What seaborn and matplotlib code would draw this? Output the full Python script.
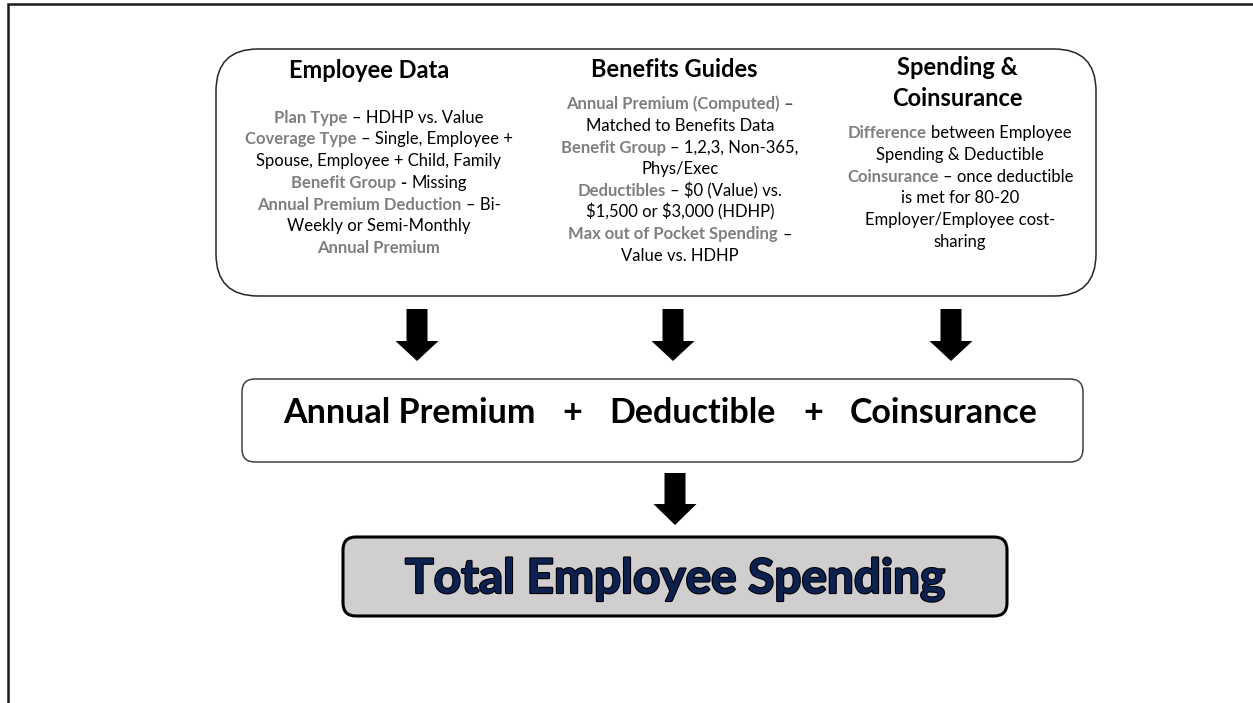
import matplotlib
matplotlib.use("Agg")
import matplotlib.pyplot as plt
import matplotlib.patheffects as pe
from matplotlib.patches import FancyBboxPatch
import numpy as np
import pandas as pd
import seaborn as sns

# ---------------- content ----------------
col_titles = [["Employee Data"], ["Benefits Guides"], ["Spending &", "Coinsurance"]]

col1_lines = [
    [("Plan Type", "label"), (" – HDHP vs. Value", "value")],
    [("Coverage Type", "label"), (" – Single, Employee +", "value")],
    [("Spouse, Employee + Child, Family", "value")],
    [("Benefit Group", "label"), (" -", "strong"), (" Missing", "value")],
    [("Annual Premium Deduction", "label"), (" – Bi-", "value")],
    [("Weekly or Semi-Monthly", "value")],
    [("Annual Premium", "label")],
]
col2_lines = [
    [("Annual Premium (Computed)", "label"), (" –", "accent")],
    [("Matched to Benefits Data", "value")],
    [("Benefit Group", "label"), (" – 1,2,3, Non-365,", "value")],
    [("Phys/Exec", "value")],
    [("Deductibles", "label"), (" – $0 (Value) vs.", "value")],
    [("$1,500 or $3,000 (HDHP)", "value")],
    [("Max out of Pocket Spending", "label"), (" –", "value")],
    [("Value vs. HDHP", "value")],
]
col3_lines = [
    [("Difference", "label"), (" between Employee", "value")],
    [("Spending & Deductible", "value")],
    [("Coinsurance", "label"), (" – once deductible", "value")],
    [("is met for 80-20", "value")],
    [("Employer/Employee cost-", "value")],
    [("sharing", "value")],
]
formula_terms = ["Annual Premium", "+", "Deductible", "+", "Coinsurance"]
result_label = "Total Employee Spending"

# ---------------- style ----------------
sns.set_theme(style="white")
plt.rcParams["font.family"] = ["Lato", "DejaVu Sans"]

STYLE = {
    "label": dict(color="#7f7f7f", fontweight="bold"),
    "value": dict(color="#000000", fontweight="normal"),
    "strong": dict(color="#000000", fontweight="bold"),
    "accent": dict(color="#44546a", fontweight="bold"),
}

W, H = 1253, 703
fig = plt.figure(figsize=(W / 100, H / 100), dpi=100)
ax = fig.add_axes([0, 0, 1, 1])
ax.set_xlim(0, W)
ax.set_ylim(H, 0)
ax.axis("off")
sns.despine(ax=ax, left=True, bottom=True)
renderer = fig.canvas.get_renderer()


def text_width(s, size, weight):
    t = ax.text(0, 0, s, fontsize=size, fontweight=weight, parse_math=False)
    w = t.get_window_extent(renderer).width
    t.remove()
    return w


def fit_size(s, weight, target):
    return 20 * target / text_width(s, 20, weight)


def space_width(size, weight):
    return text_width("n n", size, weight) - text_width("nn", size, weight)


def draw_line(segments, cx, baseline, size):
    pieces = []
    total = 0
    for txt, kind in segments:
        st = STYLE[kind]
        lead = len(txt) - len(txt.lstrip(" "))
        core = txt.strip(" ")
        gap = lead * space_width(size, st["fontweight"])
        w = text_width(core, size, st["fontweight"])
        pieces.append((gap, core, st, w))
        total += gap + w
    x = cx - total / 2
    for gap, core, st, w in pieces:
        x += gap
        ax.text(x, baseline, core, ha="left", va="baseline", fontsize=size,
                parse_math=False, **st)
        x += w


body_size = fit_size("Spouse, Employee + Child, Family", "normal", 245)
head_size = fit_size("Employee Data", "bold", 160)
mid_size = fit_size("Annual Premium", "bold", 251)
big_size = fit_size(result_label, "bold", 540)

# outer slide frame (top and left edges)
ax.plot([8, 8, W], [H, 4, 4], color="#1a1a1a", lw=1.8, solid_capstyle="butt",
        solid_joinstyle="miter")

# top rounded panel
ax.add_patch(FancyBboxPatch((216, 49), 880, 247,
                            boxstyle="round,pad=0,rounding_size=42",
                            fc="white", ec="#262626", lw=1.1))

# column texts
title_cx = [369, 674, 957]
body_cx = [379, 680, 960]
title_base = [[78], [77], [75, 106]]
body_first = [122.7, 109.3, 138.3]
line_step = 21.7
for i, lines in enumerate([col1_lines, col2_lines, col3_lines]):
    for t, yb in zip(col_titles[i], title_base[i]):
        ax.text(title_cx[i], yb, t, ha="center", va="baseline", fontsize=head_size,
                fontweight="bold", color="black", parse_math=False)
    for j, segs in enumerate(lines):
        draw_line(segs, body_cx[i], body_first[i] + j * line_step, body_size)


def down_arrow(cx, y0, yh, y1, shaft=10.5, head=21.5):
    xs = [cx - shaft, cx + shaft, cx + shaft, cx + head, cx, cx - head, cx - shaft]
    ys = [y0, y0, yh, yh, y1, yh, yh]
    ax.fill(xs, ys, color="black", lw=0)


for cx in [417, 673, 951]:
    down_arrow(cx, 309, 341, 361)
down_arrow(675, 473, 504, 525)

# middle formula box
ax.add_patch(FancyBboxPatch((242, 379), 841, 83,
                            boxstyle="round,pad=0,rounding_size=13",
                            fc="white", ec="#404040", lw=1.1))
gap = 27
widths = [text_width(s, mid_size, "bold") for s in formula_terms]
total = sum(widths) + gap * (len(formula_terms) - 1)
x = 660.5 - total / 2
for s, w in zip(formula_terms, widths):
    ax.text(x, 423, s, ha="left", va="baseline", fontsize=mid_size,
            fontweight="bold", color="black")
    x += w + gap

# result box
ax.add_patch(FancyBboxPatch((343, 537), 664, 79,
                            boxstyle="round,pad=0,rounding_size=13",
                            fc="#d0cece", ec="black", lw=2.2))
ax.text(675, 593, result_label, ha="center", va="baseline", fontsize=big_size,
        fontweight="bold", color="#0d2150",
        path_effects=[pe.withStroke(linewidth=1.6, foreground="black")])

fig.savefig("out.png", dpi=100)
